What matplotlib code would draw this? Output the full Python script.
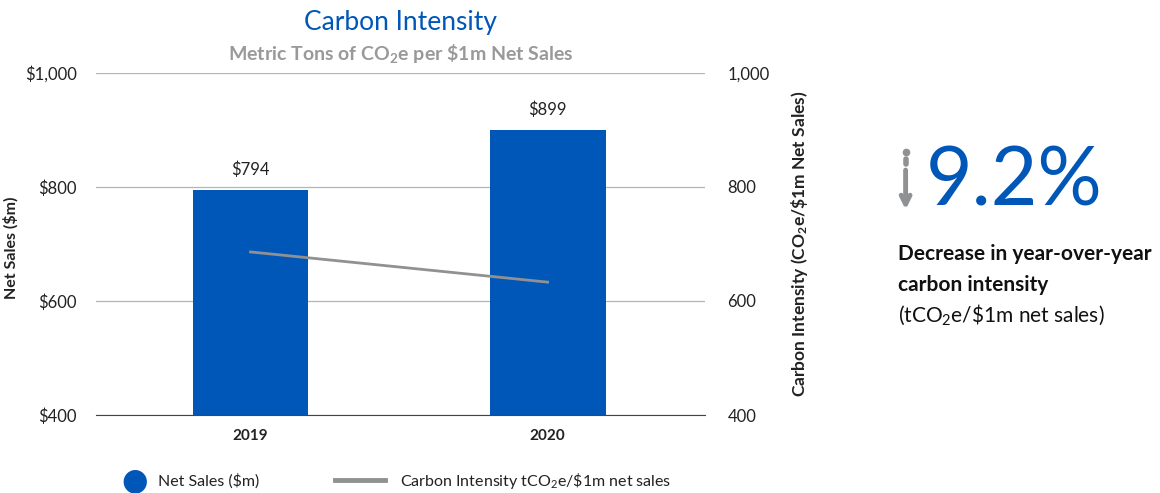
import matplotlib.pyplot as plt
import numpy as np

# chart data
years = ['2019', '2020']
net_sales = [794, 899]
carbon_intensity = [686, 633]
sales_ticks = [400, 600, 800, 1000]
sales_tick_labels = ['$400', '$600', '$800', '$1,000']
ci_ticks = [400, 600, 800, 1000]
ci_tick_labels = ['400', '600', '800', '1,000']
change_pct = '9.2%'

BLUE = '#0057b8'
GRAY = '#8f9192'
TXT = '#222222'

plt.rcParams['font.family'] = ['Lato', 'DejaVu Sans']
plt.rcParams['mathtext.fontset'] = 'custom'
plt.rcParams['mathtext.rm'] = 'Lato'
plt.rcParams['mathtext.bf'] = 'Lato:bold'
plt.rcParams['mathtext.default'] = 'regular'


def main():
    fig = plt.figure(figsize=(11.6, 4.93), dpi=100)
    ax = fig.add_axes([0.0828, 0.1582, 0.525, 0.694])
    x = np.arange(len(years))

    ax.bar(x, net_sales, width=0.39, color=BLUE, zorder=2)
    for xi, v in zip(x, net_sales):
        ax.text(xi, v + 22, f'${v}', ha='center', va='bottom', fontsize=12, color=TXT)

    ax.set_xlim(-0.52, 1.53)
    ax.set_ylim(400, 1000)
    ax.set_yticks(sales_ticks)
    ax.set_yticklabels(sales_tick_labels, fontsize=12, color=TXT)
    ax.set_xticks(x)
    ax.set_xticklabels(years, fontsize=11, fontweight='bold', color=TXT)
    ax.tick_params(length=0, pad=10)
    ax.tick_params(axis='y', pad=14)
    ax.grid(axis='y', color='#b5b5b5', lw=0.9, zorder=0)
    for s in ['top', 'left', 'right']:
        ax.spines[s].set_visible(False)
    ax.spines['bottom'].set_color('#444444')
    fig.text(0.009, 0.497, 'Net Sales ($m)', rotation=90, fontsize=11.5,
             fontweight='bold', color=TXT, ha='center', va='center')

    ax2 = ax.twinx()
    ax2.plot(x, carbon_intensity, color=GRAY, lw=2, zorder=3)
    ax2.set_ylim(400, 1000)
    ax2.set_yticks(ci_ticks)
    ax2.set_yticklabels(ci_tick_labels, fontsize=12, color=TXT)
    ax2.tick_params(length=0, pad=16)
    for s in ax2.spines.values():
        s.set_visible(False)
    ax2.set_ylabel(r'Carbon Intensity (CO$_\mathbf{2}$e/\$1m Net Sales)', fontsize=12.5,
                   fontweight='bold', color=TXT, labelpad=14)

    fig.text(0.345, 0.955, 'Carbon Intensity', ha='center', va='center',
             fontsize=19, color=BLUE)
    fig.text(0.345, 0.891, r'Metric Tons of CO$_\mathbf{2}$e per \$1m Net Sales', ha='center',
             va='center', fontsize=14, fontweight='bold', color='#999999')

    # legend
    fig.text(0.1165, 0.025, '\u25cf', color=BLUE, fontsize=22, ha='center', va='center',
             family='DejaVu Sans')
    fig.text(0.136, 0.025, 'Net Sales ($m)', fontsize=11.5, color=TXT, va='center')
    fig.add_artist(plt.Line2D([0.289, 0.332], [0.027, 0.027], color=GRAY, lw=3.5))
    fig.text(0.345, 0.025, r'Carbon Intensity tCO$_2$e/\$1m net sales', fontsize=11.5,
             color=TXT, va='center')

    # right panel: arrow with dotted tail
    ax_x = 0.7807
    fig.add_artist(plt.Line2D([ax_x], [0.692], color=GRAY, marker='o', markersize=4.5, lw=0))
    fig.add_artist(plt.Line2D([ax_x, ax_x], [0.667, 0.678], color=GRAY, lw=4,
                              solid_capstyle='round'))
    ax.annotate('', xy=(ax_x, 0.575), xycoords='figure fraction',
                xytext=(ax_x, 0.655), textcoords='figure fraction',
                arrowprops=dict(arrowstyle='->', color=GRAY, lw=3.5,
                                mutation_scale=16, shrinkA=0, shrinkB=0))
    fig.text(0.798, 0.63, change_pct, fontsize=58, color=BLUE, va='center', ha='left')
    fig.text(0.774, 0.485, 'Decrease in year-over-year', fontsize=15, fontweight='bold',
             color='#111111', va='center')
    fig.text(0.774, 0.422, 'carbon intensity', fontsize=15, fontweight='bold',
             color='#111111', va='center')
    fig.text(0.774, 0.362, r'(tCO$_2$e/\$1m net sales)', fontsize=15,
             color='#111111', va='center')

    fig.savefig('out.png', dpi=100)


if __name__ == '__main__':
    main()
